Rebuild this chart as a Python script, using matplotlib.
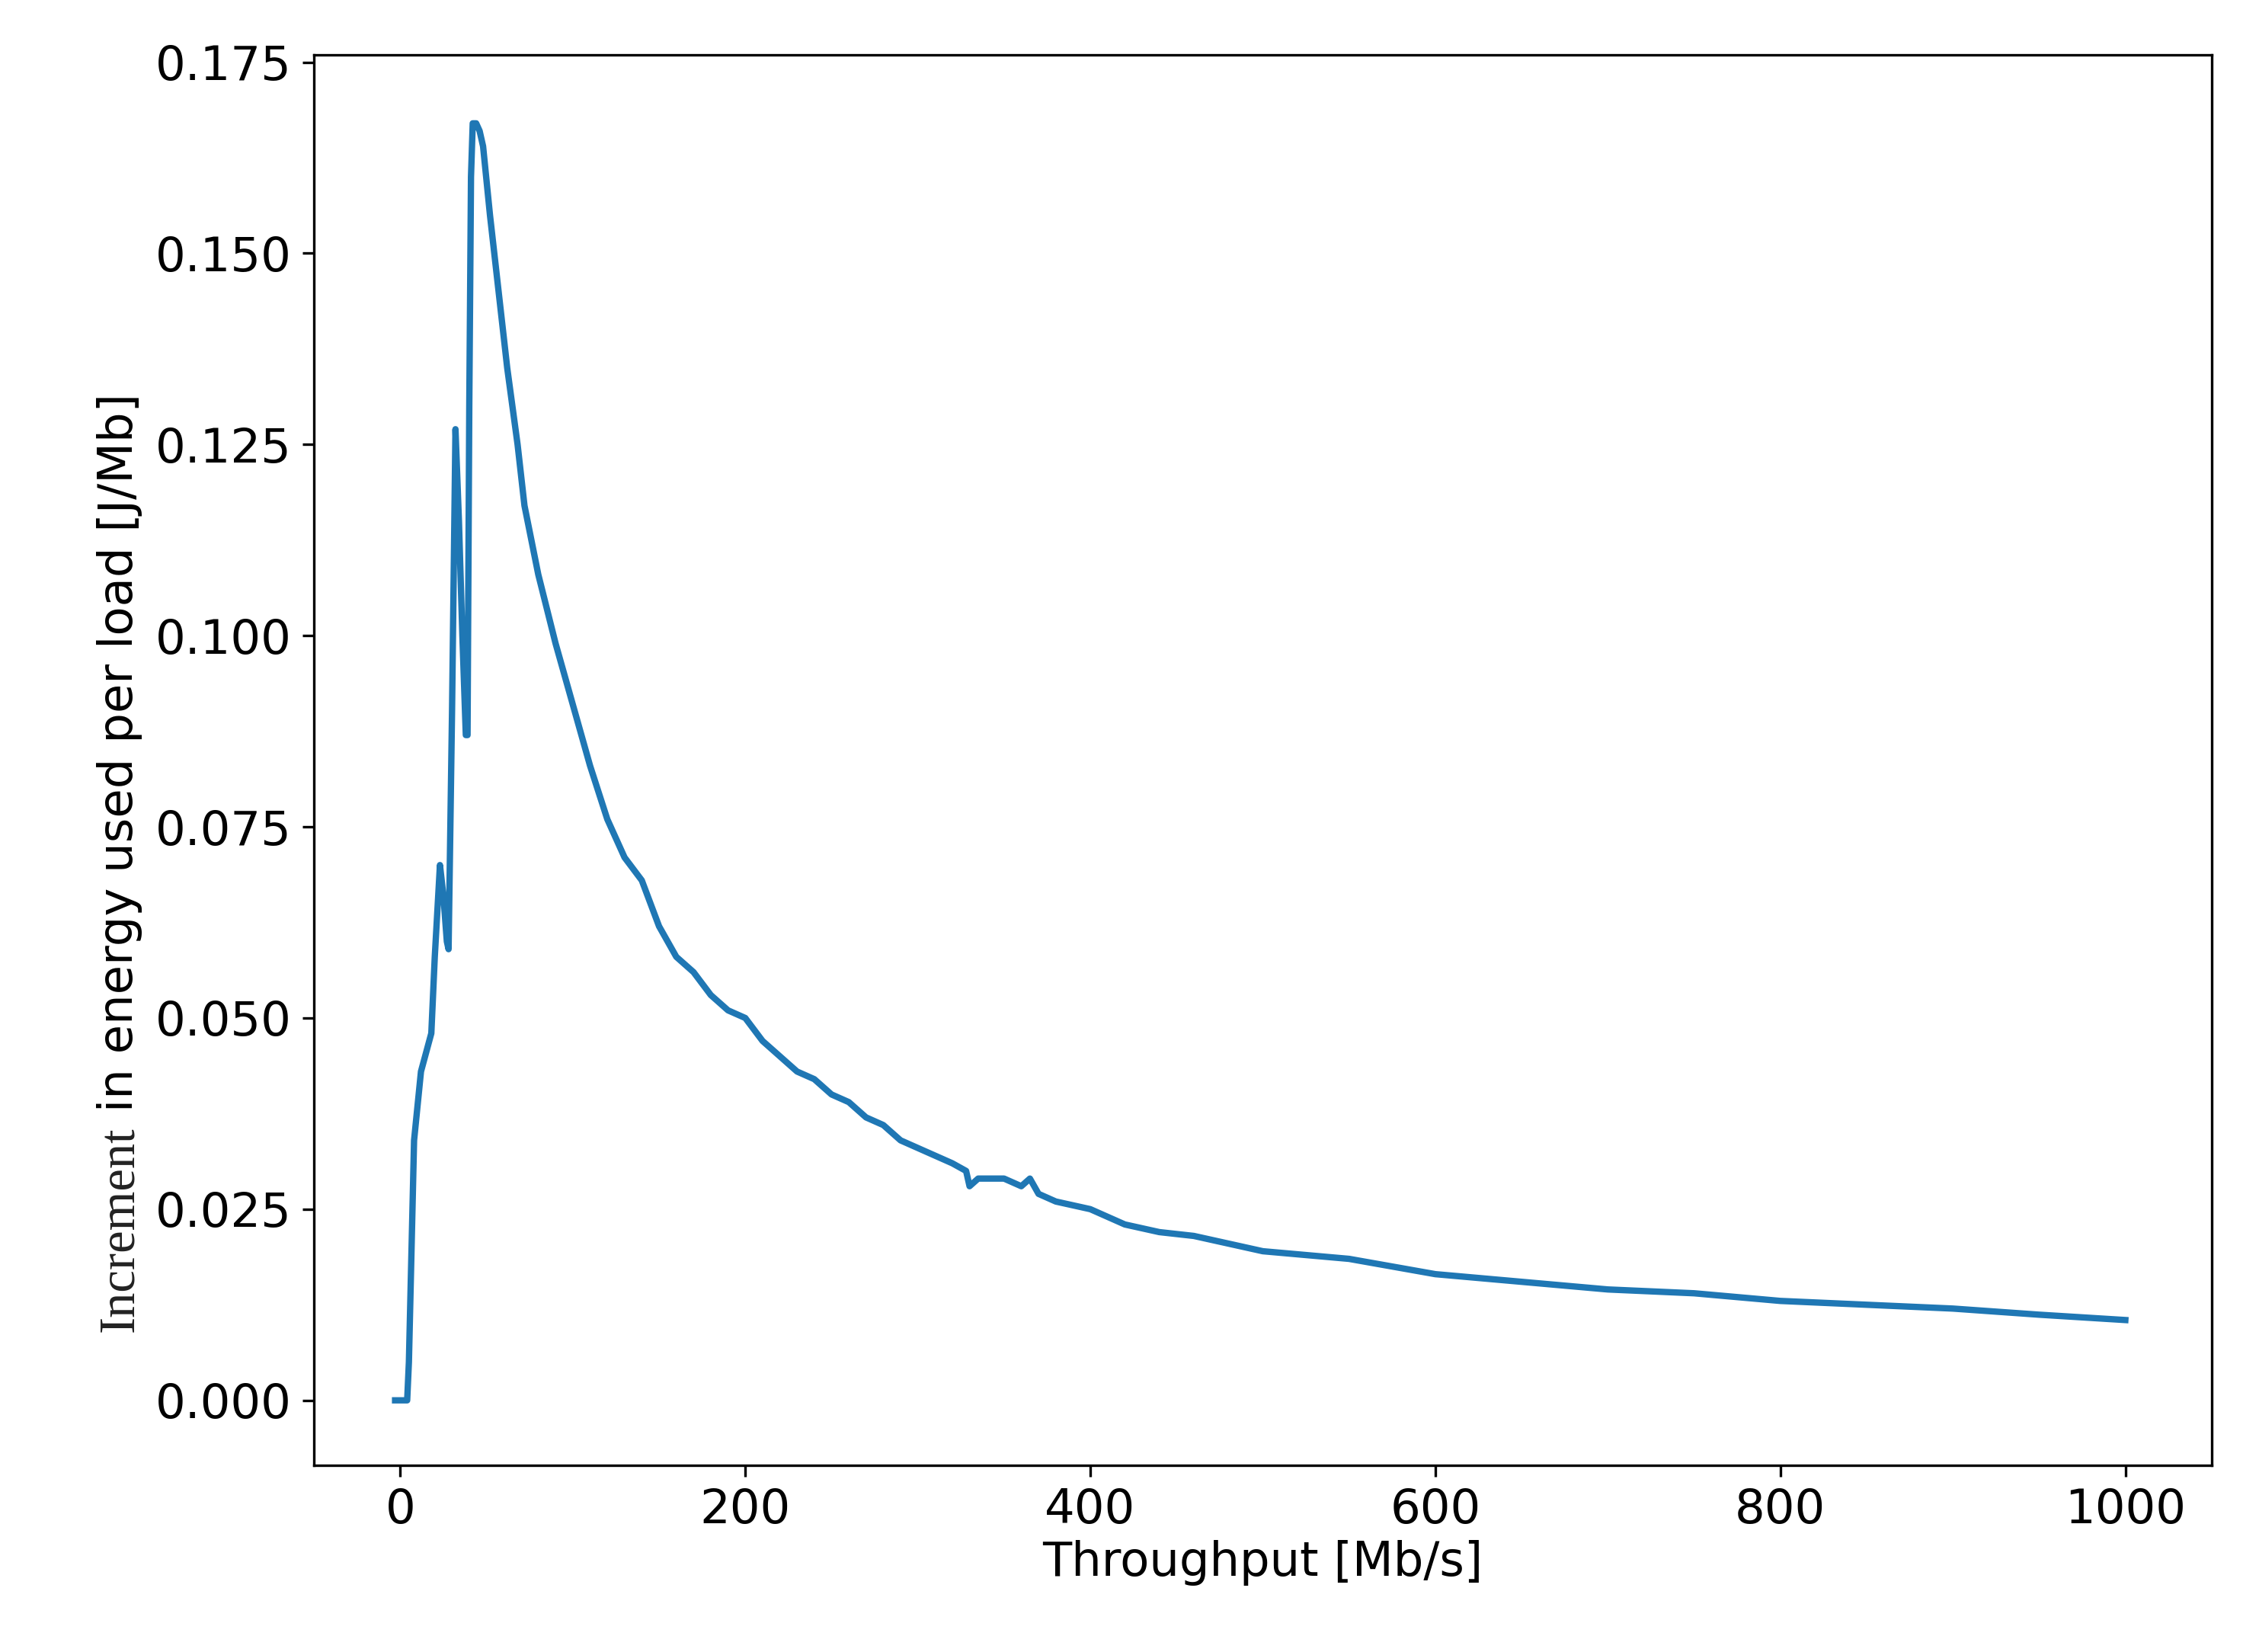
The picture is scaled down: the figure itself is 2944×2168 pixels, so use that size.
import matplotlib
matplotlib.use("Agg")
import matplotlib.pyplot as plt

x = [-3,0,4,5,8,12,18,20,23,25,27,28,30,32,34,36,38,39,40,41,42,44,46,48,52,57,62,68,72,80,90,100,110,120,130,140,150,160,170,180,190,200,210,220,230,240,250,260,270,280,290,300,310,320,328,330,335,340,350,360,365,370,380,400,420,440,460,480,500,550,600,650,700,750,800,850,900,950,1000]
y = [0,0,0,0.005,0.034,0.043,0.048,0.058,0.070,0.066,0.060,0.059,0.090,0.127,0.115,0.100,0.087,0.087,0.130,0.160,0.167,0.167,0.166,0.164,0.155,0.145,0.135,0.125,0.117,0.108,0.099,0.091,0.083,0.076,0.071,0.068,0.062,0.058,0.056,0.053,0.051,0.050,0.047,0.045,0.043,0.042,0.040,0.039,0.037,0.036,0.034,0.033,0.032,0.031,0.030,0.028,0.029,0.029,0.029,0.028,0.029,0.027,0.026,0.025,0.023,0.022,0.0215,0.0205,0.0195,0.0185,0.0165,0.0155,0.0145,0.014,0.013,0.0125,0.012,0.0112,0.0105]

plt.rcParams['font.size'] = 15
fig = plt.figure(figsize=(2944/300, 2168/300), dpi=300)
ax = fig.add_axes([0.14, 0.113, 0.846, 0.854])
ax.plot(x, y, color='#1f77b4', lw=2.0)
ax.set_xlim(-50, 1050)
ax.set_ylim(-0.0085, 0.176)
ax.set_xticks([0,200,400,600,800,1000])
ax.set_yticks([0,0.025,0.05,0.075,0.1,0.125,0.15,0.175])
ax.set_xlabel('Throughput [Mb/s]', labelpad=2)
yl = ax.set_ylabel(' in energy used per load [J/Mb]', labelpad=4)
fig.canvas.draw()
bb = yl.get_window_extent()
fx = (bb.x0 + bb.x1) / 2 / fig.bbox.width
fy = bb.y0 / fig.bbox.height
fig.text(fx, fy, 'Increment', rotation=90, ha='center', va='top',
         family='Liberation Serif', fontsize=16, color='#222222')
fig.savefig('out.png', dpi=300)
